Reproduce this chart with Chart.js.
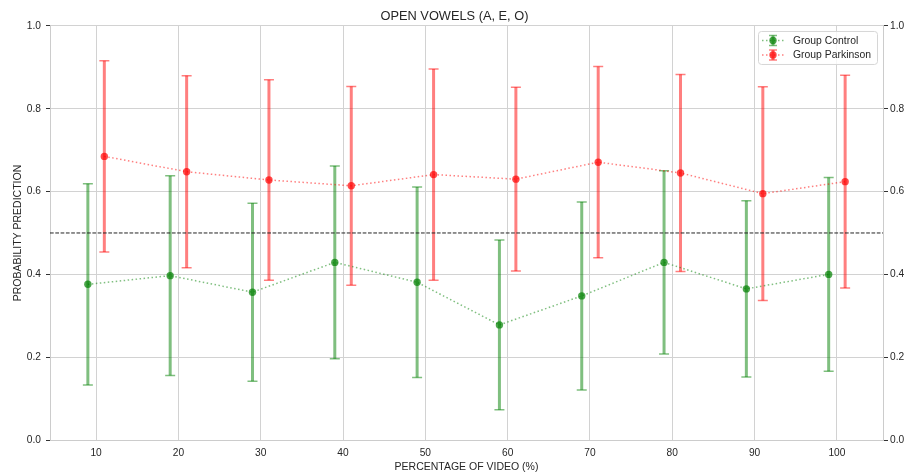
<!DOCTYPE html>
<html>
<head>
<meta charset="utf-8">
<script src="https://cdn.jsdelivr.net/npm/chart.js@4.4.1/dist/chart.umd.min.js"></script>
<style>
  html, body { margin: 0; padding: 0; background: #fff; }
  #wrap { width: 909px; height: 473px; }
</style>
</head>
<body>
<div id="wrap"><canvas id="chart" width="909" height="473"></canvas></div>
<script>
// data
const xTicks = [10, 20, 30, 40, 50, 60, 70, 80, 90, 100]
const controlPos = [9, 19, 29, 39, 49, 59, 69, 79, 89, 99]
const parkinsonPos = [11, 21, 31, 41, 51, 61, 71, 81, 91, 101]
const controlMean = [0.376, 0.397, 0.357, 0.429, 0.381, 0.278, 0.348, 0.429, 0.365, 0.400]
const controlStd = [0.243, 0.241, 0.215, 0.233, 0.230, 0.205, 0.227, 0.221, 0.213, 0.234]
const parkinsonMean = [0.685, 0.648, 0.628, 0.614, 0.641, 0.630, 0.671, 0.645, 0.595, 0.624]
const parkinsonStd = [0.231, 0.232, 0.242, 0.240, 0.255, 0.222, 0.231, 0.238, 0.258, 0.257]
const threshold = 0.5

const FONT = "'Liberation Sans', Arial, sans-serif"
const TEXT = '#262626'
const GRID = '#d2d2d2'

const points = (pos, vals) => pos.map((x, i) => ({ x, y: vals[i] }))

const makeSet = (label, pos, mean, std, rgb) => ({
  label,
  data: points(pos, mean),
  errors: std,
  errorColor: `rgba(${rgb},0.5)`,
  markerColor: `rgba(${rgb},0.7)`,
  showLine: true,
  borderColor: `rgba(${rgb},0.5)`,
  borderWidth: 1.5,
  borderDash: [1.5, 2.5],
  pointRadius: 3.7,
  pointBorderWidth: 0,
  pointBackgroundColor: `rgba(${rgb},0.7)`,
  pointHoverRadius: 3.7,
})

const errorBars = {
  id: 'errorBars',
  beforeDatasetsDraw(chart) {
    const { ctx, scales: { x, y } } = chart
    chart.data.datasets.forEach((ds) => {
      ctx.save()
      ctx.strokeStyle = ds.errorColor
      ds.data.forEach((pt, i) => {
        const px = x.getPixelForValue(pt.x)
        const top = y.getPixelForValue(pt.y + ds.errors[i])
        const bot = y.getPixelForValue(pt.y - ds.errors[i])
        ctx.lineWidth = 3
        ctx.beginPath()
        ctx.moveTo(px, top)
        ctx.lineTo(px, bot)
        ctx.stroke()
        ctx.lineWidth = 1.5
        ctx.beginPath()
        ctx.moveTo(px - 5, top)
        ctx.lineTo(px + 5, top)
        ctx.moveTo(px - 5, bot)
        ctx.lineTo(px + 5, bot)
        ctx.stroke()
      })
      ctx.restore()
    })
  },
  afterDatasetsDraw(chart) {
    const { ctx, chartArea, scales: { y } } = chart
    const py = y.getPixelForValue(threshold)
    ctx.save()
    ctx.strokeStyle = '#222'
    ctx.lineWidth = 1
    ctx.setLineDash([3.7, 1.6])
    ctx.beginPath()
    ctx.moveTo(chartArea.left, py)
    ctx.lineTo(chartArea.right, py)
    ctx.stroke()
    ctx.restore()
  },
}

const boxLegend = {
  id: 'boxLegend',
  afterDraw(chart) {
    const { ctx, chartArea } = chart
    const w = 119, h = 33
    const left = chartArea.right - w - 6
    const top = chartArea.top + 5
    ctx.save()
    ctx.fillStyle = 'rgba(255,255,255,0.8)'
    ctx.strokeStyle = '#d6d6d6'
    ctx.lineWidth = 1
    ctx.beginPath()
    ctx.roundRect(left + 0.5, top + 0.5, w, h, 3)
    ctx.fill()
    ctx.stroke()
    chart.data.datasets.forEach((ds, i) => {
      const cy = top + 9.5 + i * 14.5
      const cx = left + 15
      ctx.strokeStyle = ds.borderColor
      ctx.lineWidth = 1.5
      ctx.setLineDash([1.5, 2.5])
      ctx.beginPath()
      ctx.moveTo(left + 4, cy)
      ctx.lineTo(left + 26, cy)
      ctx.stroke()
      ctx.setLineDash([])
      ctx.strokeStyle = ds.errorColor
      ctx.lineWidth = 3
      ctx.beginPath()
      ctx.moveTo(cx, cy - 5)
      ctx.lineTo(cx, cy + 5)
      ctx.stroke()
      ctx.lineWidth = 1.5
      ctx.beginPath()
      ctx.moveTo(cx - 4, cy - 5)
      ctx.lineTo(cx + 4, cy - 5)
      ctx.moveTo(cx - 4, cy + 5)
      ctx.lineTo(cx + 4, cy + 5)
      ctx.stroke()
      ctx.fillStyle = ds.markerColor
      ctx.beginPath()
      ctx.arc(cx, cy, 3.7, 0, Math.PI * 2)
      ctx.fill()
      ctx.fillStyle = TEXT
      ctx.font = `10.4px ${FONT}`
      ctx.textBaseline = 'middle'
      ctx.fillText(ds.label, left + 35, cy + 0.5)
    })
    ctx.restore()
  },
}

const yTick = (v) => v.toFixed(1)

new Chart(document.getElementById('chart'), {
  type: 'scatter',
  data: {
    datasets: [
      makeSet('Group Control', controlPos, controlMean, controlStd, '0,128,0'),
      makeSet('Group Parkinson', parkinsonPos, parkinsonMean, parkinsonStd, '255,0,0'),
    ],
  },
  options: {
    responsive: false,
    animation: false,
    devicePixelRatio: 1,
    layout: { padding: 0 },
    plugins: {
      legend: { display: false },
      tooltip: { enabled: false },
      title: {
        display: true,
        text: 'OPEN VOWELS (A, E, O)',
        color: TEXT,
        font: { family: FONT, size: 12.8, weight: 'normal', lineHeight: 1.2 },
        padding: { top: 9, bottom: 1.6 },
      },
    },
    scales: {
      x: {
        type: 'linear',
        min: 4.4,
        max: 105.6,
        afterBuildTicks: (scale) => { scale.ticks = xTicks.map(value => ({ value })) },
        afterFit: (scale) => { scale.height = 33 },
        grid: { color: GRID, drawTicks: false },
        border: { color: '#cccccc' },
        ticks: { color: TEXT, padding: 7, font: { family: FONT, size: 10.2 } },
        title: {
          display: true,
          text: 'PERCENTAGE OF VIDEO (%)',
          color: TEXT,
          font: { family: FONT, size: 10.5 },
          padding: { top: 0, bottom: 0 },
        },
      },
      y: {
        position: 'left',
        min: 0,
        max: 1,
        afterFit: (scale) => { scale.width = 50 },
        grid: { color: GRID, tickColor: '#333', tickLength: 4 },
        border: { color: '#cccccc' },
        ticks: { stepSize: 0.2, color: TEXT, padding: 5, font: { family: FONT, size: 10.2 }, callback: yTick },
        title: {
          display: true,
          text: 'PROBABILITY PREDICTION',
          color: TEXT,
          font: { family: FONT, size: 10.5 },
          padding: { top: 11.5, bottom: 11.5 },
        },
      },
      y2: {
        position: 'right',
        min: 0,
        max: 1,
        afterFit: (scale) => { scale.width = 26 },
        grid: { drawOnChartArea: false, tickColor: '#333', tickLength: 5 },
        border: { color: '#cccccc' },
        ticks: { stepSize: 0.2, color: TEXT, padding: 2, font: { family: FONT, size: 10.2 }, callback: yTick },
      },
    },
  },
  plugins: [errorBars, boxLegend],
})
</script>
</body>
</html>
